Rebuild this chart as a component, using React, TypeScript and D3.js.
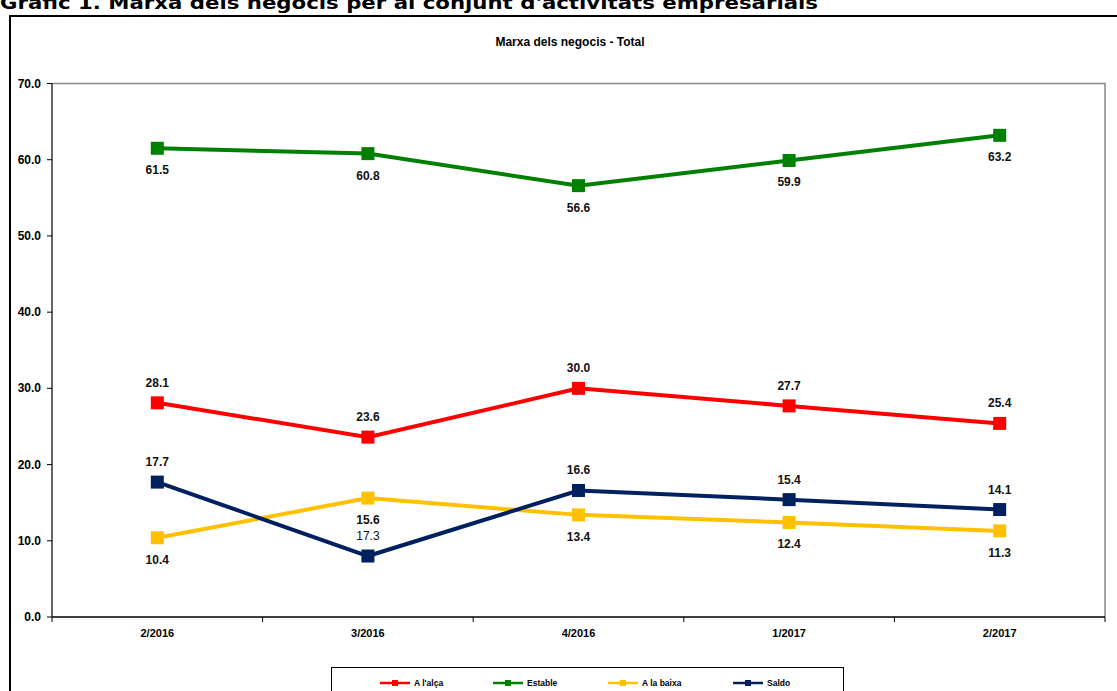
import React from 'react';
import * as d3 from 'd3';

const periods = ['2/2016', '3/2016', '4/2016', '1/2017', '2/2017'];
const alca = [28.1, 23.6, 30.0, 27.7, 25.4];
const estable = [61.5, 60.8, 56.6, 59.9, 63.2];
const baixa = [10.4, 15.6, 13.4, 12.4, 11.3];
const saldo = [17.7, 8.0, 16.6, 15.4, 14.1];
// the source chart prints 17.3 (not bold) next to the 3/2016 saldo point
const saldoLabels = ['17.7', '17.3', '16.6', '15.4', '14.1'];
const yTicks = [0, 10, 20, 30, 40, 50, 60, 70];

const series = [
    { name: "A l'alça", values: alca, labels: alca.map(v => v.toFixed(1)), color: '#FF0000', pos: 'above' },
    { name: 'Estable', values: estable, labels: estable.map(v => v.toFixed(1)), color: '#008000', pos: 'below' },
    { name: 'A la baixa', values: baixa, labels: baixa.map(v => v.toFixed(1)), color: '#FFC000', pos: 'below' },
    { name: 'Saldo', values: saldo, labels: saldoLabels, color: '#002060', pos: 'above' },
];

const font = 'Arial, "Liberation Sans", sans-serif';

export default function App() {
    const width = 1117;
    const height = 691;
    const plot = { left: 52, right: 1105, top: 83.5, bottom: 617 };

    const x = d3.scaleBand().domain(periods).range([plot.left, plot.right]);
    const y = d3.scaleLinear().domain([0, 70]).range([plot.bottom, plot.top]);
    const cx = (p: string) => (x(p) as number) + x.bandwidth() / 2;

    const line = d3.line<number>()
        .x((_, i) => cx(periods[i]))
        .y(d => y(d));

    const legendX = [380, 493, 608, 733];

    return (
        <svg width={width} height={height} style={{ position: 'absolute', left: 0, top: 0, background: '#fff' }}>
            {/* page title, clipped at the top as in the source */}
            <text x={0} y={9} fontFamily='Verdana, "DejaVu Sans", sans-serif' fontWeight="bold" fontSize={18}
                textLength={818} lengthAdjust="spacingAndGlyphs" fill="#000">
                Gràfic 1. Marxa dels negocis per al conjunt d'activitats empresarials
            </text>

            {/* chart frame */}
            <path d={`M10,${height + 5}V16H${width + 5}`} fill="none" stroke="#000" strokeWidth={2} />

            <text x={570} y={46} textAnchor="middle" fontFamily={font} fontWeight="bold" fontSize={12}>
                Marxa dels negocis - Total
            </text>

            {/* plot area border */}
            <path d={`M${plot.left},${plot.top}H${plot.right}V${plot.bottom}`} fill="none" stroke="#888" strokeWidth={1.5} />

            {/* y axis */}
            <line x1={plot.left} x2={plot.left} y1={plot.top} y2={plot.bottom} stroke="#000" strokeWidth={1.2} />
            {yTicks.map(t => (
                <g key={t}>
                    <line x1={plot.left - 5} x2={plot.left} y1={y(t)} y2={y(t)} stroke="#000" />
                    <text x={41} y={y(t) + 4} textAnchor="end" fontFamily={font} fontWeight="bold" fontSize={12}>
                        {t.toFixed(1)}
                    </text>
                </g>
            ))}

            {/* x axis */}
            <line x1={plot.left} x2={plot.right} y1={plot.bottom} y2={plot.bottom} stroke="#000" strokeWidth={1.5} />
            {periods.map(p => (
                <g key={p}>
                    <line x1={x(p)} x2={x(p)} y1={plot.bottom} y2={plot.bottom + 5} stroke="#000" />
                    <text x={cx(p)} y={637} textAnchor="middle" fontFamily={font} fontWeight="bold" fontSize={11}>
                        {p}
                    </text>
                </g>
            ))}
            <line x1={plot.right} x2={plot.right} y1={plot.bottom} y2={plot.bottom + 5} stroke="#000" />

            {/* series */}
            {series.map(s => (
                <g key={s.name}>
                    <path d={line(s.values) as string} fill="none" stroke={s.color} strokeWidth={4} />
                    {s.values.map((v, i) => (
                        <rect key={i} x={cx(periods[i]) - 6.5} y={y(v) - 6.5} width={13} height={13} fill={s.color} />
                    ))}
                    {s.values.map((v, i) => {
                        const odd = s.name === 'Saldo' && i === 1;
                        return (
                            <text key={'l' + i} x={cx(periods[i])} y={s.pos === 'above' ? y(v) - 16 : y(v) + 26}
                                textAnchor="middle" fontFamily={font} fontWeight={odd ? 'normal' : 'bold'} fontSize={12} fill="#111">
                                {s.labels[i]}
                            </text>
                        );
                    })}
                </g>
            ))}

            {/* legend */}
            <rect x={331.5} y={667.5} width={512} height={40} fill="#fff" stroke="#000" strokeWidth={1} />
            {series.map((s, i) => (
                <g key={'lg' + s.name}>
                    <line x1={legendX[i]} x2={legendX[i] + 30} y1={683} y2={683} stroke={s.color} strokeWidth={2.5} />
                    <rect x={legendX[i] + 12} y={680} width={6} height={6} fill={s.color} />
                    <text x={legendX[i] + 34} y={686} fontFamily={font} fontWeight="bold" fontSize={8.5}>{s.name}</text>
                </g>
            ))}
        </svg>
    );
}
